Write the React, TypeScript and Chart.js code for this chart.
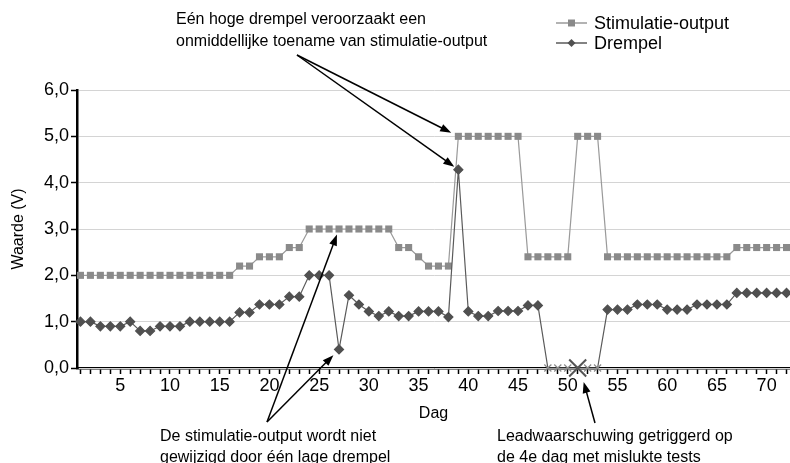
import React, { useEffect, useRef } from 'react';
import { Chart, registerables } from 'chart.js';
Chart.register(...registerables);

const days = [
  1, 2, 3, 4, 5, 6, 7, 8, 9, 10, 11, 12, 13, 14, 15, 16, 17, 18, 19, 20, 21, 22, 23, 24,
  25, 26, 27, 28, 29, 30, 31, 32, 33, 34, 35, 36, 37, 38, 39, 40, 41, 42, 43, 44, 45, 46, 47, 48,
  49, 50, 51, 52, 53, 54, 55, 56, 57, 58, 59, 60, 61, 62, 63, 64, 65, 66, 67, 68, 69, 70, 71, 72,
];

const stimulatieOutput = [
  2.0, 2.0, 2.0, 2.0, 2.0, 2.0, 2.0, 2.0, 2.0, 2.0, 2.0, 2.0, 2.0, 2.0, 2.0, 2.0,
  2.2, 2.2, 2.4, 2.4, 2.4, 2.6, 2.6,
  3.0, 3.0, 3.0, 3.0, 3.0, 3.0, 3.0, 3.0, 3.0,
  2.6, 2.6, 2.4, 2.2, 2.2, 2.2,
  5.0, 5.0, 5.0, 5.0, 5.0, 5.0, 5.0,
  2.4, 2.4, 2.4, 2.4, 2.4,
  5.0, 5.0, 5.0,
  2.4, 2.4, 2.4, 2.4, 2.4, 2.4, 2.4, 2.4, 2.4, 2.4, 2.4, 2.4, 2.4,
  2.6, 2.6, 2.6, 2.6, 2.6, 2.6,
];

const drempel = [
  1.0, 1.0, 0.9, 0.9, 0.9, 1.0, 0.8, 0.8, 0.9, 0.9, 0.9, 1.0, 1.0, 1.0, 1.0, 1.0,
  1.2, 1.2, 1.37, 1.37, 1.37, 1.54, 1.54,
  2.0, 2.0, 2.0, 0.4, 1.57, 1.37, 1.22, 1.12, 1.22, 1.12, 1.12, 1.22, 1.22, 1.22, 1.1,
  4.28, 1.22, 1.12, 1.12, 1.23, 1.23, 1.23, 1.35, 1.35,
  0, 0, 0, 0, 0, 0,
  1.26, 1.26, 1.26, 1.37, 1.37, 1.37, 1.26, 1.26, 1.26, 1.37, 1.37, 1.37, 1.37,
  1.62, 1.62, 1.62, 1.62, 1.62, 1.62,
];

const leadWarningDays = [51];
const leadWarningValues = [0];

const yTicks = [0, 1, 2, 3, 4, 5, 6];
const xLabelEvery = 5;

const seriesLabels = ['Stimulatie-output', 'Drempel'];
const xTitle = 'Dag';
const yTitle = 'Waarde (V)';

const noteHigh = ['Eén hoge drempel veroorzaakt een', 'onmiddellijke toename van stimulatie-output'];
const noteLow = ['De stimulatie-output wordt niet', 'gewijzigd door één lage drempel'];
const noteLead = ['Leadwaarschuwing getriggerd op', 'de 4e dag met mislukte tests'];

const FONT = "'Liberation Sans', Arial, sans-serif";

function arrow(ctx: CanvasRenderingContext2D, x0: number, y0: number, tx: number, ty: number, gap: number) {
  const dx = tx - x0;
  const dy = ty - y0;
  const len = Math.sqrt(dx * dx + dy * dy);
  const ux = dx / len;
  const uy = dy / len;
  const x1 = tx - ux * gap;
  const y1 = ty - uy * gap;
  const hl = 11;
  const hw = 4;
  ctx.save();
  ctx.strokeStyle = '#000';
  ctx.fillStyle = '#000';
  ctx.lineWidth = 1.5;
  ctx.beginPath();
  ctx.moveTo(x0, y0);
  ctx.lineTo(x1 - ux * hl * 0.6, y1 - uy * hl * 0.6);
  ctx.stroke();
  ctx.beginPath();
  ctx.moveTo(x1, y1);
  ctx.lineTo(x1 - ux * hl - uy * hw, y1 - uy * hl + ux * hw);
  ctx.lineTo(x1 - ux * hl + uy * hw, y1 - uy * hl - ux * hw);
  ctx.closePath();
  ctx.fill();
  ctx.restore();
}

const overlayPlugin = {
  id: 'overlay',
  afterDraw(chart: any) {
    const ctx: CanvasRenderingContext2D = chart.ctx;
    const xs = chart.scales.x;
    const ys = chart.scales.y;
    ctx.save();
    // Legend
    const ds = chart.data.datasets;
    ctx.font = `18px ${FONT}`;
    ctx.textBaseline = 'middle';
    ctx.textAlign = 'left';
    for (let i = 0; i < 2; i++) {
      const d = ds[i];
      const y = 23 + i * 20;
      ctx.strokeStyle = d.borderColor;
      ctx.lineWidth = 1.5;
      ctx.beginPath();
      ctx.moveTo(556, y);
      ctx.lineTo(587, y);
      ctx.stroke();
      ctx.fillStyle = d.pointBackgroundColor;
      ctx.beginPath();
      if (i === 0) {
        ctx.rect(571.5 - 3.5, y - 3.5, 7, 7);
      } else {
        ctx.moveTo(571.5, y - 4);
        ctx.lineTo(575.5, y);
        ctx.lineTo(571.5, y + 4);
        ctx.lineTo(567.5, y);
        ctx.closePath();
      }
      ctx.fill();
      ctx.fillStyle = '#000';
      ctx.fillText(d.label, 594, y + 1);
    }

    // Notes
    ctx.font = `16px ${FONT}`;
    ctx.fillStyle = '#000';
    ctx.textBaseline = 'middle';
    noteHigh.forEach((t, i) => ctx.fillText(t, 176, 20 + i * 22));
    noteLow.forEach((t, i) => ctx.fillText(t, 160, 437 + i * 21));
    noteLead.forEach((t, i) => ctx.fillText(t, 497, 437 + i * 21));

    const hiDay = 39;
    const hiIdx = days.indexOf(hiDay);
    arrow(ctx, 297, 55, xs.getPixelForValue(hiDay), ys.getPixelForValue(stimulatieOutput[hiIdx]), 8);
    arrow(ctx, 297, 55, xs.getPixelForValue(hiDay), ys.getPixelForValue(drempel[hiIdx]), 5);

    const loDay = 27;
    const loIdx = days.indexOf(loDay);
    arrow(ctx, 267, 422, xs.getPixelForValue(loDay), ys.getPixelForValue(stimulatieOutput[loIdx]), 6);
    arrow(ctx, 267, 422, xs.getPixelForValue(loDay), ys.getPixelForValue(drempel[loIdx]), 8);

    const lw = leadWarningDays[0];
    arrow(ctx, 595, 423, xs.getPixelForValue(lw) + 6, ys.getPixelForValue(leadWarningValues[0]) + 14, 0);
    ctx.restore();
  },
};

export default function App() {
  const ref = useRef<HTMLCanvasElement | null>(null);
  useEffect(() => {
    if (!ref.current) return;
    const chart = new Chart(ref.current, {
      type: 'line',
      data: {
        datasets: [
          {
            label: seriesLabels[0],
            data: days.map((d, i) => ({ x: d, y: stimulatieOutput[i] })),
            borderColor: '#9a9a9a',
            borderWidth: 1.2,
            pointStyle: 'rect',
            pointRadius: 5,
            pointBackgroundColor: '#8a8a8a',
            pointBorderColor: '#8a8a8a',
            pointBorderWidth: 0,
            clip: false,
            order: 2,
          },
          {
            label: seriesLabels[1],
            data: days.map((d, i) => ({ x: d, y: drempel[i] })),
            borderColor: '#5a5a5a',
            borderWidth: 1.2,
            pointStyle: (c: any) => (c.raw && c.raw.y === 0 ? 'crossRot' : 'rectRot'),
            pointRadius: (c: any) => (c.raw && c.raw.y === 0 ? 5 : 4.5),
            pointBackgroundColor: '#505050',
            pointBorderColor: (c: any) => (c.raw && c.raw.y === 0 ? '#8c8c8c' : '#505050'),
            pointBorderWidth: 1.2,
            clip: false,
            order: 0,
          },
          {
            label: 'lead',
            data: leadWarningDays.map((d, i) => ({ x: d, y: leadWarningValues[i] })),
            showLine: false,
            pointStyle: 'crossRot',
            pointRadius: 12,
            pointBorderColor: '#555555',
            pointBorderWidth: 2,
            clip: false,
            order: -1,
          },
        ],
      },
      options: {
        responsive: false,
        animation: false,
        events: [],
        layout: { autoPadding: false, padding: { left: 0, right: 0, top: 90, bottom: 35 } },
        plugins: { legend: { display: false }, tooltip: { enabled: false } },
        scales: {
          x: {
            type: 'linear',
            min: 0.65,
            max: 72.35,
            afterFit: (s: any) => {
              s.height = 60;
              s.paddingRight = 0;
              s.paddingLeft = 0;
            },
            afterBuildTicks: (s: any) => {
              s.ticks = days.map((d) => ({ value: d }));
            },
            border: { color: '#000', width: 2.5, z: -1 },
            grid: { drawOnChartArea: false, drawTicks: true, tickLength: 6, tickColor: '#000', tickWidth: 1.5 },
            ticks: {
              autoSkip: false,
              maxRotation: 0,
              padding: 1,
              color: '#000',
              font: { family: FONT, size: 18 },
              callback: (v: any) => (Number(v) % xLabelEvery === 0 ? String(v) : ''),
            },
            title: {
              display: true,
              text: xTitle,
              color: '#000',
              font: { family: FONT, size: 16 },
              padding: { top: 0, bottom: 5 },
            },
          },
          y: {
            min: 0,
            max: 6,
            afterFit: (s: any) => {
              s.width = 77;
            },
            afterBuildTicks: (s: any) => {
              s.ticks = yTicks.map((v) => ({ value: v }));
            },
            border: { color: '#000', width: 2.5 },
            grid: { color: '#d4d4d4', lineWidth: 1, drawTicks: true, tickLength: 6, tickColor: '#000', tickWidth: 1.5 },
            ticks: {
              padding: 2,
              color: '#000',
              font: { family: FONT, size: 18 },
              callback: (v: any) => Number(v).toFixed(1).replace('.', ','),
            },
            title: {
              display: true,
              text: yTitle,
              color: '#000',
              font: { family: FONT, size: 16 },
              padding: { top: 9, bottom: 0 },
            },
          },
        },
      },
      plugins: [overlayPlugin],
    } as any);
    return () => chart.destroy();
  }, []);
  return (
    <div style={{ position: 'fixed', left: 0, top: 0, width: 790, height: 463, background: '#fff' }}>
      <canvas ref={ref} width={790} height={463} style={{ width: 790, height: 463, display: 'block' }} />
    </div>
  );
}
